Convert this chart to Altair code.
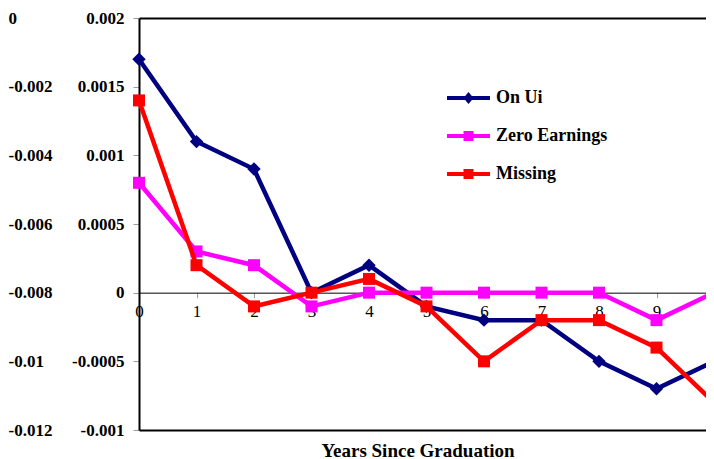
import altair as alt
import pandas as pd

years = list(range(11))
on_ui = [0.0017, 0.0011, 0.0009, 0.0, 0.0002, -0.0001, -0.0002, -0.0002, -0.0005, -0.0007, -0.0005]
zero_earnings = [0.0008, 0.0003, 0.0002, -0.0001, 0.0, 0.0, 0.0, 0.0, 0.0, -0.0002, 0.0]
missing = [0.0014, 0.0002, -0.0001, 0.0, 0.0001, -0.0001, -0.0005, -0.0002, -0.0002, -0.0004, -0.0008]
series_names = ["On Ui", "Zero Earnings", "Missing"]
series_colors = ["#000080", "#FF00FF", "#FF0000"]
series_markers = ["diamond", "square", "square"]
series_marker_sizes = [180, 144, 144]
y_ticks = [-0.001, -0.0005, 0, 0.0005, 0.001, 0.0015, 0.002]
left_ticks = [0, -0.002, -0.004, -0.006, -0.008, -0.01, -0.012]

rows = []
for name, vals in zip(series_names, [on_ui, zero_earnings, missing]):
    for yr, v in zip(years, vals):
        rows.append({"series": name, "year": yr, "value": v})
df = pd.DataFrame(rows)
left_df = pd.DataFrame({"v": left_ticks})
years_df = pd.DataFrame({"year": years})

FONT = "Liberation Serif"
W, H = 567, 412
X_RANGE = 575  # one year = 57.5 px; the last column runs to the page edge

SQ = "M-2.15,-0.2H2.15V0.2H-2.15Z M-0.5,-0.5H0.5V0.5H-0.5Z"
DI = "M-2.15,-0.2H2.15V0.2H-2.15Z M0,-0.6L0.5,0L0,0.6L-0.5,0Z"
legend_shapes = [DI, SQ, SQ]

x_scale = alt.Scale(domain=[0, 10], nice=False, range=[0, X_RANGE])
y_scale = alt.Scale(domain=[-0.001, 0.002], nice=False, zero=False)

x_axis_zero = alt.Axis(
    values=years, format="d", orient="bottom", offset=-H / 3,
    domainColor="black", domainWidth=1, tickColor="#999999", tickSize=5,
    labelFont=FONT, labelFontSize=17, labelColor="black", labelPadding=6,
    labelFlush=False, labelOverlap=False, grid=False, title=None,
)
y_axis_main = alt.Axis(
    values=y_ticks, labelExpr="'' + datum.value",
    domainColor="black", domainWidth=2, tickColor="#999999", tickSize=6,
    labelFont=FONT, labelFontSize=17, labelFontWeight="bold", labelColor="black",
    labelPadding=9, grid=False, title=None,
)


def border_axis(orient):
    return alt.Axis(orient=orient, domainColor="black", domainWidth=2, ticks=False,
                    labels=False, grid=False, title=None)


layers = []
for i, (name, col, mk, sz) in enumerate(zip(series_names, series_colors, series_markers, series_marker_sizes)):
    first = i == 0
    ln = alt.Chart(df).transform_filter(alt.datum.series == name).mark_line(
        strokeWidth=4.5, color=col
    ).encode(
        x=alt.X("year:Q", scale=x_scale, axis=x_axis_zero if first else None),
        y=alt.Y("value:Q", scale=y_scale, axis=y_axis_main if first else None),
        order="year:Q",
    )
    pt = alt.Chart(df).transform_filter(alt.datum.series == name).mark_point(
        filled=True, opacity=1, size=sz, shape=mk, color=col, strokeWidth=0
    ).encode(
        x=alt.X("year:Q", scale=x_scale, axis=None),
        y=alt.Y("value:Q", scale=y_scale, axis=None),
    )
    layers += [ln, pt]

leg = alt.Legend(
    orient="none", legendX=319.5, legendY=70, title=None, padding=0,
    symbolSize=400, symbolStrokeWidth=0, symbolOpacity=1,
    labelFont=FONT, labelFontSize=18, labelFontWeight="bold", labelColor="black",
    labelOffset=17.5, rowPadding=19,
)
legend_carrier = alt.Chart(df).mark_point(filled=True, opacity=0).encode(
    x=alt.X("year:Q", scale=x_scale, axis=None),
    y=alt.Y("value:Q", scale=y_scale, axis=None),
    color=alt.Color("series:N", scale=alt.Scale(domain=series_names, range=series_colors), legend=leg),
    shape=alt.Shape("series:N", scale=alt.Scale(domain=series_names, range=legend_shapes), legend=leg),
)

left_axis = alt.Chart(left_df).mark_rule(opacity=0).encode(
    y=alt.Y(
        "v:Q",
        scale=alt.Scale(domain=[-0.012, 0], nice=False, zero=False),
        axis=alt.Axis(
            orient="left", offset=131, values=left_ticks, labelExpr="'' + datum.value",
            domain=False, ticks=False, labelAlign="left", labelPadding=0,
            labelFont=FONT, labelFontSize=17, labelFontWeight="bold", labelColor="black",
            grid=False, title=None,
        ),
    ),
)

border_bottom = alt.Chart(years_df).mark_rule(opacity=0).encode(
    x=alt.X("year:Q", scale=x_scale, axis=border_axis("bottom")))
border_top = alt.Chart(years_df).mark_rule(opacity=0).encode(
    x=alt.X("year:Q", scale=x_scale, axis=border_axis("top")))

chart = alt.layer(
    *layers, legend_carrier, left_axis, border_bottom, border_top
).resolve_scale(y="independent").resolve_axis(x="independent").properties(
    width=W, height=H,
    autosize=alt.AutoSizeParams(type="none"),
    padding={"left": 131, "top": 10, "right": 0, "bottom": 29},
    title=alt.TitleParams(
        "Years Since Graduation", orient="bottom", font=FONT, fontSize=19,
        fontWeight="bold", color="black", offset=3.5, dx=-4.5, anchor="middle",
    ),
    background="white",
).configure_view(stroke=None)

chart.save("out.html", embed_options={"renderer": "svg", "actions": False})
